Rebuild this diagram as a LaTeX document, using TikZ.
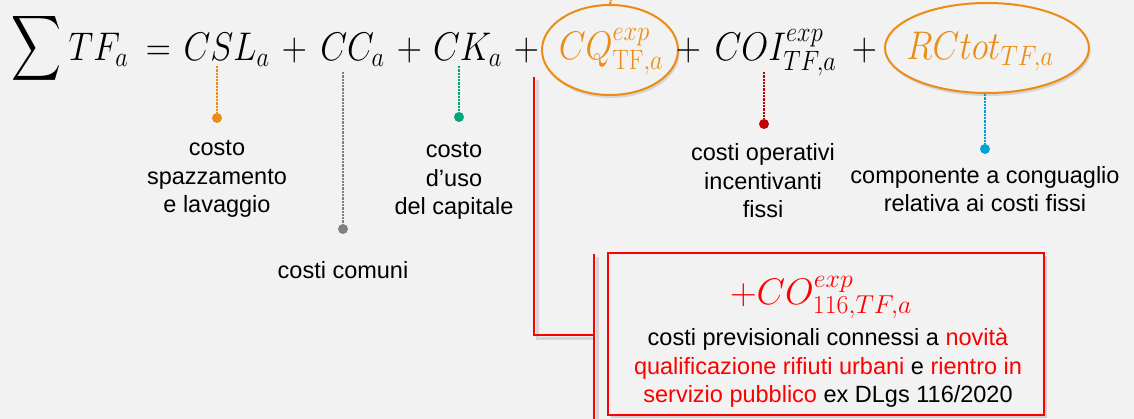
\documentclass[tikz,border=0pt]{standalone}
\usepackage{fix-cm}
\usepackage{exscale}
\usepackage{graphicx}
\usepackage[no-math]{fontspec}
\setmainfont{Liberation Sans}
\usetikzlibrary{shapes.geometric,calc,shadows}
\definecolor{bg}{RGB}{242,242,242}
\definecolor{orng}{RGB}{237,140,20}
\definecolor{gry}{RGB}{128,128,128}
\definecolor{grn}{RGB}{0,166,126}
\definecolor{dred}{RGB}{192,0,0}
\definecolor{cyn}{RGB}{0,162,212}
\definecolor{rred}{RGB}{255,0,0}
\newcommand{\eqx}[1]{\scalebox{0.87}[1]{$#1$}}
\begin{document}
\begin{tikzpicture}[x=1pt,y=-1pt,
  eq/.style={inner sep=0, anchor=base, font=\fontsize{40}{44}\selectfont},
  ell/.style={ellipse, draw=orng, line width=2pt, fill=bg, inner sep=0,
    drop shadow={opacity=0.25, shadow xshift=1.5pt, shadow yshift=-3pt}},
  dotn/.style={circle, fill=#1, inner sep=0, minimum size=10pt},
  conn/.style={densely dotted, line width=2.3pt, draw=#1},
  lbl/.style={align=center, inner sep=0, font=\fontsize{23.5}{28.5}\selectfont},
  redline/.style={draw=rred, line width=1.7pt},
  redshadow/.style={draw=black, opacity=0.12, line width=3pt}]
\useasboundingbox (0,0) rectangle (1134,419);
\fill[bg] (0,0) rectangle (1134,419);

% ellipses
\node[ell, minimum width=136pt, minimum height=90pt] (cq) at (610,50) {};
\node[ell, minimum width=204pt, minimum height=90pt] (rc) at (987,48) {};
\coordinate (cqtop) at (611,0);
\draw[conn=orng] (cq.north) -- (cqtop);

% equation
\node[inner sep=0] (sum) at (37,48.5) {\resizebox*{50pt}{73pt}{$\displaystyle\sum$}};
\node[eq] (tf) at (98.5,61) {\eqx{TF_a}};
\node[eq] (eqs) at (158.5,61) {\eqx{=}};
\node[eq] (csl) at (226.5,61) {\eqx{CSL_a}};
\node[eq] (p1) at (294.5,61) {\eqx{+}};
\node[eq] (cc) at (352.5,61) {\eqx{CC_a}};
\node[eq] (p2) at (409.5,61) {\eqx{+}};
\node[eq] (ck) at (467.5,61) {\eqx{CK_a}};
\node[eq] (p3) at (526.5,61) {\eqx{+}};
\node[eq, text=orng] (cqt) at (611,60) {\eqx{CQ^{exp}_{\mathrm{TF},a}}};
\node[eq] (p4) at (688.5,61) {\eqx{+}};
\node[eq] (coi) at (775.5,61) {\eqx{COI^{exp}_{TF,a}}};
\node[eq] (p5) at (864.5,61) {\eqx{+}};
\node[eq, text=orng] (rct) at (980,60) {\eqx{RCtot_{TF,a}}};

% connectors and dots
\coordinate (c1) at (217,66);
\coordinate (c2) at (343,72);
\coordinate (c3) at (459,66);
\coordinate (c4) at (764,72);
\coordinate (c5) at (985,94);
\node[dotn=orng] (d1) at (217,118) {};
\node[dotn=gry] (d2) at (343,229) {};
\node[dotn=grn] (d3) at (459,117) {};
\node[dotn=dred] (d4) at (764,124) {};
\node[dotn=cyn] (d5) at (985,149) {};
\draw[conn=orng] (c1) -- (d1);
\draw[conn=gry] (c2) -- (d2);
\draw[conn=grn] (c3) -- (d3);
\draw[conn=dred] (c4) -- (d4);
\draw[conn=cyn] (c5) -- (d5);

% labels
\node[lbl] (l1) at (217,179) {costo\\spazzamento\\e lavaggio};
\node[lbl] (l2) at (343,270) {costi comuni};
\node[lbl] (l3) at (454,181) {costo\\d’uso\\del capitale};
\node[lbl] (l4) at (763,181) {costi operativi\\incentivanti\\fissi};
\node[lbl] (l5) at (985,189) {componente a conguaglio\\relativa ai costi fissi};

% bracket
\coordinate (btop) at (534,77);
\coordinate (bmid) at (594,335);
\coordinate (bb1) at (594,254);
\coordinate (bb2) at (594,419);
\draw[redshadow] ($(btop)+(3,3)$) |- ($(bmid)+(0,3)$);
\draw[redshadow] ($(bb1)+(3,3)$) -- ($(bb2)+(3,3)$);
\draw[redline] (btop) |- (bmid);
\draw[redline] (bb1) -- (bb2);

% red box
\node[draw=rred, line width=1.7pt, fill=bg, minimum width=436pt, minimum height=162pt, inner sep=0,
  drop shadow={opacity=0.3, shadow xshift=3pt, shadow yshift=-3pt}] (box) at (826,334) {};
\node[inner sep=0, anchor=base, text=rred, font=\fontsize{37}{40}\selectfont] (bf) at (821,305) {$+CO^{exp}_{116,TF,a}$};
\node[lbl] (bt) at (828,368) {costi previsionali connessi a \textcolor{rred}{novità}\\
\textcolor{rred}{qualificazione rifiuti urbani} e \textcolor{rred}{rientro in}\\
\textcolor{rred}{servizio pubblico} ex DLgs 116/2020};
\end{tikzpicture}
\end{document}
